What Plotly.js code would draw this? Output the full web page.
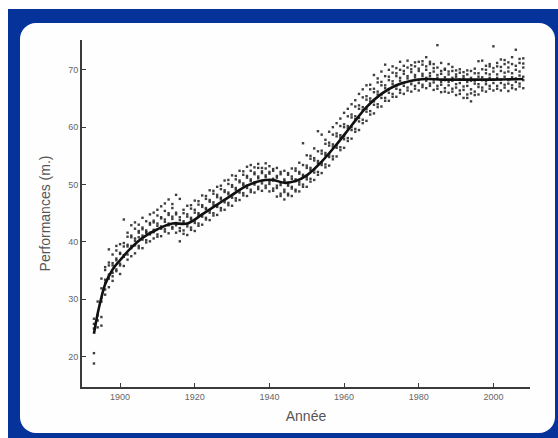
<!DOCTYPE html>
<html>
<head>
<meta charset="utf-8">
<script src="https://cdn.plot.ly/plotly-3.0.1.min.js"></script>
<style>
  html, body { margin: 0; padding: 0; background: #ffffff; }
  #wrap { position: relative; width: 558px; height: 438px; overflow: hidden; background: #ffffff; }
  #blue { position: absolute; left: 8px; top: 9px; width: 550px; height: 429px; background: #05339a; }
  #panel { position: absolute; left: 20px; top: 23px; width: 535px; height: 410px; background: #fefefe; border-radius: 16px; }
  #chart { position: absolute; left: 0; top: 0; width: 558px; height: 438px; }
</style>
</head>
<body>
<div id="wrap">
  <div id="blue"></div>
  <div id="panel"></div>
  <div id="chart"></div>
</div>
<script>
// Smooth trend curve (knots, drawn with spline)
const curveYears = [1893, 1894, 1895, 1896, 1898, 1900, 1903, 1906, 1910, 1914, 1918, 1922, 1926, 1930, 1934, 1938, 1941, 1944, 1947, 1950, 1954, 1958, 1962, 1966, 1970, 1974, 1978, 1982, 1986, 1990, 2000, 2008];
const curveValues = [24.0, 27.5, 30.3, 32.6, 35.2, 36.8, 39.0, 40.7, 42.2, 43.2, 43.2, 44.8, 46.5, 48.2, 49.8, 50.7, 50.8, 50.3, 50.6, 51.6, 54.0, 57.0, 60.3, 63.5, 65.8, 67.3, 68.1, 68.4, 68.3, 68.3, 68.3, 68.4];

// Yearly performances (scatter), one list per year, 1893..2008
const firstYear = 1893;
const scatterValues = [
  [18.8, 20.6, 24.9, 25.7, 26.6],
  [25.1, 26.3, 27.2, 29.6],
  [25.4, 26.9, 29.6, 30.2, 31.9, 33.6],
  [30.8, 32.9, 33.4, 35.1, 35.6, 31.7],
  [32.1, 33.6, 34.3, 35.9, 36.4, 38.7],
  [33.2, 34.0, 35.9, 36.3, 37.8, 34.6],
  [34.9, 35.2, 36.8, 37.1, 38.5, 39.3],
  [34.4, 35.9, 36.2, 37.9, 38.1, 39.6],
  [35.8, 37.4, 37.7, 39.2, 39.8, 43.9],
  [36.9, 37.8, 39.2, 39.5, 40.9, 41.6],
  [37.5, 38.9, 39.3, 40.8, 41.1, 42.9],
  [38.0, 39.4, 40.2, 40.6, 42.3, 43.4],
  [38.9, 39.3, 40.8, 41.6, 41.9, 43.0],
  [38.9, 40.4, 41.1, 42.2, 42.5, 44.2],
  [39.9, 40.3, 41.7, 42.0, 43.6, 41.6],
  [40.1, 41.3, 41.6, 43.0, 43.3, 44.8],
  [40.6, 41.7, 42.1, 43.4, 43.7, 45.1],
  [40.9, 41.3, 42.8, 43.2, 44.6, 45.6],
  [41.0, 42.3, 42.7, 44.1, 44.3, 46.2],
  [41.8, 42.2, 43.5, 43.9, 45.4, 46.7],
  [41.5, 42.9, 43.2, 44.7, 45.0, 47.4],
  [42.3, 42.6, 44.0, 44.4, 45.9, 46.6],
  [41.6, 42.9, 43.3, 44.8, 45.1, 48.2],
  [40.1, 41.9, 42.4, 43.8, 44.3, 47.5],
  [41.4, 42.0, 43.3, 43.6, 45.0, 45.6],
  [41.2, 42.7, 43.1, 44.4, 44.8, 46.3],
  [42.1, 42.5, 43.9, 44.2, 45.8, 46.4],
  [41.9, 43.3, 43.7, 45.1, 45.6, 47.2],
  [42.8, 43.2, 44.7, 45.0, 46.5, 47.1],
  [43.0, 44.4, 44.8, 46.1, 46.4, 48.1],
  [43.9, 44.2, 45.7, 45.9, 47.5, 48.0],
  [43.8, 45.1, 45.5, 47.0, 47.3, 49.0],
  [44.6, 45.0, 46.5, 46.9, 48.4, 48.9],
  [44.7, 46.1, 46.4, 47.8, 48.2, 49.6],
  [45.5, 45.9, 47.4, 47.7, 49.2, 49.8],
  [45.6, 46.9, 47.3, 48.7, 49.0, 50.7],
  [46.4, 46.8, 48.3, 48.6, 50.1, 50.8],
  [46.3, 47.7, 48.1, 49.6, 49.9, 51.6],
  [47.2, 47.6, 49.1, 49.4, 50.9, 51.5],
  [47.3, 48.6, 49.0, 50.4, 50.7, 52.4],
  [48.1, 48.5, 49.9, 50.2, 51.7, 52.3],
  [48.0, 49.4, 49.8, 51.2, 51.5, 53.1],
  [48.7, 49.1, 50.6, 50.9, 52.4, 53.4],
  [48.6, 50.0, 50.4, 51.8, 52.1, 53.0],
  [49.2, 49.6, 51.1, 51.4, 52.9, 53.6],
  [48.9, 50.2, 50.6, 52.0, 52.3, 52.9],
  [49.4, 49.8, 51.3, 51.6, 52.8, 53.7],
  [48.8, 50.1, 50.5, 51.9, 52.2, 53.2],
  [48.9, 49.3, 50.7, 51.0, 52.4, 52.7],
  [47.9, 49.4, 49.8, 51.2, 51.5, 52.9],
  [48.0, 48.4, 49.9, 50.3, 51.8, 52.2],
  [47.4, 48.7, 49.1, 50.6, 50.9, 52.4],
  [48.1, 48.4, 49.8, 50.1, 51.7, 52.0],
  [48.0, 49.3, 49.6, 51.0, 51.4, 52.8],
  [48.8, 49.1, 50.6, 50.9, 52.4, 52.8],
  [48.8, 50.0, 50.4, 51.9, 52.2, 53.8],
  [49.6, 50.0, 51.4, 51.7, 53.4, 57.2],
  [49.6, 50.9, 51.3, 52.9, 53.3, 55.1],
  [50.5, 51.0, 52.5, 52.9, 54.5, 55.0],
  [50.8, 52.1, 52.6, 54.2, 54.6, 56.3],
  [51.7, 52.2, 53.7, 54.1, 55.8, 59.3],
  [52.0, 53.4, 53.8, 55.4, 55.9, 58.7],
  [53.0, 53.5, 55.1, 55.5, 57.1, 57.8],
  [53.3, 54.8, 55.2, 56.8, 57.3, 59.2],
  [54.4, 54.9, 56.6, 57.0, 58.7, 60.0],
  [54.9, 56.4, 56.8, 58.4, 58.9, 60.7],
  [56.0, 56.5, 58.2, 58.6, 60.2, 61.5],
  [56.4, 57.9, 58.4, 60.0, 60.5, 62.5],
  [57.6, 58.1, 59.8, 60.2, 61.9, 63.2],
  [58.0, 59.5, 60.0, 61.7, 62.2, 64.0],
  [59.2, 59.7, 61.4, 61.9, 63.6, 64.7],
  [59.5, 61.0, 61.6, 63.2, 63.8, 65.8],
  [60.7, 61.3, 63.0, 63.5, 65.2, 66.6],
  [61.1, 62.7, 63.2, 64.8, 65.4, 67.3],
  [62.2, 62.8, 64.5, 65.0, 66.6, 67.4],
  [62.4, 63.9, 64.5, 66.1, 66.7, 69.1],
  [63.5, 64.0, 65.7, 66.2, 67.8, 68.5],
  [63.6, 65.1, 65.7, 67.3, 67.9, 69.7],
  [64.6, 65.1, 66.8, 67.3, 68.9, 70.9],
  [64.6, 66.0, 66.6, 68.2, 68.8, 70.0],
  [65.3, 65.8, 67.5, 68.0, 69.5, 70.6],
  [65.3, 66.7, 67.2, 68.9, 69.4, 70.3],
  [66.0, 66.5, 68.1, 68.6, 70.0, 71.4],
  [65.8, 67.2, 67.7, 69.3, 69.8, 70.7],
  [66.4, 66.9, 68.5, 68.9, 70.4, 71.6],
  [66.2, 67.5, 68.0, 69.6, 70.1, 70.8],
  [66.7, 67.2, 68.7, 69.1, 70.6, 71.3],
  [66.4, 67.7, 68.2, 69.8, 70.2, 71.4],
  [67.0, 67.4, 68.9, 69.3, 70.9, 71.5],
  [66.8, 68.1, 68.6, 70.0, 70.6, 72.2],
  [67.2, 67.6, 68.9, 69.4, 71.0, 71.4],
  [66.5, 67.8, 68.3, 69.7, 70.3, 71.0],
  [66.7, 67.2, 68.6, 69.1, 70.4, 74.3],
  [66.1, 67.4, 67.9, 69.3, 69.8, 71.2],
  [66.2, 66.8, 68.2, 68.7, 70.0, 70.2],
  [66.0, 67.3, 67.9, 69.2, 69.7, 71.0],
  [66.2, 66.7, 68.1, 68.6, 69.8, 70.5],
  [65.6, 66.9, 67.5, 68.8, 69.2, 69.9],
  [65.8, 66.4, 67.7, 68.3, 69.5, 70.1],
  [65.1, 66.5, 67.1, 68.5, 68.9, 69.6],
  [65.1, 65.7, 67.2, 67.9, 69.2, 69.9],
  [64.5, 65.9, 66.6, 68.1, 68.6, 69.8],
  [65.6, 66.2, 67.6, 68.1, 69.4, 70.2],
  [65.7, 67.0, 67.5, 68.8, 69.4, 71.5],
  [66.4, 66.9, 68.2, 68.7, 70.1, 71.6],
  [66.2, 67.5, 68.0, 69.4, 70.0, 70.7],
  [66.7, 67.2, 68.6, 69.2, 70.6, 71.0],
  [66.4, 67.7, 68.3, 69.7, 70.3, 74.1],
  [66.7, 67.2, 68.6, 69.2, 70.6, 71.2],
  [66.4, 67.7, 68.3, 69.8, 70.5, 71.8],
  [66.9, 67.4, 68.8, 69.5, 71.0, 71.7],
  [66.3, 67.6, 68.2, 69.7, 70.4, 71.3],
  [66.8, 67.3, 68.7, 69.4, 71.0, 72.2],
  [66.6, 67.9, 68.5, 70.0, 70.7, 73.5],
  [67.1, 67.6, 69.0, 69.7, 71.2, 71.9],
  [66.8, 68.2, 68.8, 70.4, 71.1, 72.0]
];

const xTickVals = [1900, 1920, 1940, 1960, 1980, 2000];
const yTickVals = [20, 30, 40, 50, 60, 70];

const sx = [], sy = [];
scatterValues.forEach((vals, i) => {
  vals.forEach(v => { sx.push(firstYear + i); sy.push(v); });
});

const traces = [
  {
    x: sx, y: sy, type: 'scatter', mode: 'markers',
    marker: { symbol: 'square', size: 2.4, color: '#2a2a2a', opacity: 0.9 },
    hoverinfo: 'skip'
  },
  {
    x: curveYears, y: curveValues, type: 'scatter', mode: 'lines',
    line: { color: '#111111', width: 2.6, shape: 'spline', smoothing: 1 },
    hoverinfo: 'skip'
  }
];

const axisCommon = {
  showline: true, linecolor: '#3a3a3a', linewidth: 2,
  ticks: 'inside', ticklen: 4, tickwidth: 1, tickcolor: '#3a3a3a',
  showgrid: false, zeroline: false,
  tickfont: { family: 'Liberation Sans, Arial, sans-serif', size: 9, color: '#666666' },
  mirror: false
};

const layout = {
  width: 558, height: 438,
  paper_bgcolor: 'rgba(0,0,0,0)',
  plot_bgcolor: 'rgba(0,0,0,0)',
  showlegend: false,
  margin: { l: 82, r: 28, t: 40, b: 51 },
  xaxis: Object.assign({}, axisCommon, {
    range: [1889.8, 2009.8],
    tickvals: xTickVals,
    ticktext: xTickVals.map(String),
    title: { text: 'Année', font: { family: 'Liberation Sans, Arial, sans-serif', size: 14, color: '#555555' }, standoff: 10 }
  }),
  yaxis: Object.assign({}, axisCommon, {
    range: [14.7, 75.2],
    tickvals: yTickVals,
    ticktext: yTickVals.map(String),
    title: { text: 'Performances (m.)', font: { family: 'Liberation Sans, Arial, sans-serif', size: 14, color: '#555555' }, standoff: 14 }
  })
};

Plotly.newPlot('chart', traces, layout, { displayModeBar: false, staticPlot: true });
</script>
</body>
</html>
